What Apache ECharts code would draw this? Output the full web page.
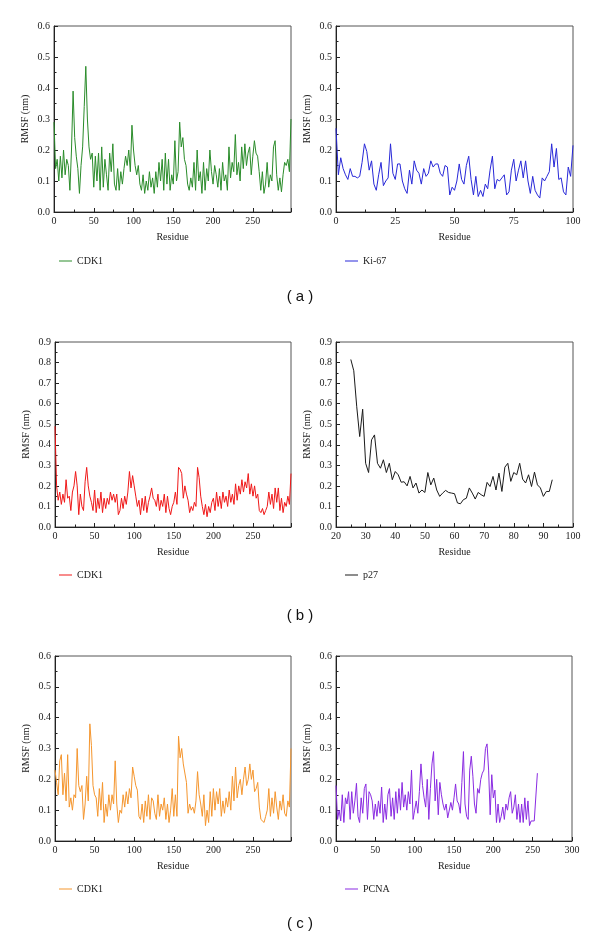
<!DOCTYPE html>
<html>
<head>
<meta charset="utf-8">
<script src="https://cdn.jsdelivr.net/npm/echarts@6/dist/echarts.min.js"></script>
<style>html,body{margin:0;padding:0;background:#fff}#c{width:600px;height:944px}</style>
</head>
<body>
<div id="c"></div>
<script>
// ---- data ----
const cdk1Step = 2; // CDK1 and PCNA values sampled every 2 residues
const cdk1GreenValues = [
0.29,0.14,0.17,0.10,0.18,0.11,0.20,0.12,0.17,0.15,
0.07,0.20,0.39,0.24,0.18,0.14,0.06,0.15,0.21,0.34,
0.47,0.30,0.21,0.17,0.19,0.08,0.18,0.10,0.19,0.07,
0.21,0.08,0.17,0.12,0.07,0.19,0.13,0.22,0.09,0.07,
0.14,0.07,0.13,0.09,0.14,0.18,0.15,0.20,0.13,0.28,
0.20,0.15,0.12,0.15,0.09,0.07,0.12,0.06,0.10,0.07,
0.13,0.08,0.11,0.06,0.13,0.08,0.16,0.10,0.17,0.07,
0.19,0.09,0.17,0.07,0.12,0.09,0.23,0.10,0.13,0.29,
0.21,0.24,0.17,0.15,0.09,0.07,0.11,0.08,0.16,0.07,
0.20,0.10,0.13,0.06,0.16,0.07,0.14,0.10,0.20,0.13,
0.09,0.15,0.12,0.08,0.14,0.07,0.16,0.10,0.12,0.07,
0.21,0.11,0.16,0.13,0.25,0.12,0.16,0.10,0.21,0.14,
0.22,0.15,0.19,0.21,0.12,0.18,0.23,0.19,0.18,0.13,
0.07,0.13,0.06,0.09,0.16,0.08,0.12,0.10,0.21,0.23,
0.12,0.07,0.11,0.065,0.12,0.16,0.15,0.17,0.13,0.30];
const ki67Values = [
0.27,0.12,0.175,0.14,0.12,0.105,0.14,0.115,0.115,0.11,
0.115,0.16,0.22,0.195,0.135,0.165,0.09,0.07,0.12,0.16,
0.085,0.10,0.11,0.22,0.125,0.105,0.155,0.155,0.10,0.075,
0.06,0.135,0.09,0.165,0.135,0.125,0.09,0.14,0.115,0.125,
0.165,0.145,0.155,0.155,0.125,0.115,0.15,0.145,0.055,0.08,
0.07,0.10,0.155,0.105,0.09,0.15,0.18,0.105,0.055,0.115,
0.05,0.07,0.05,0.09,0.075,0.135,0.18,0.075,0.105,0.10,
0.11,0.12,0.055,0.065,0.135,0.17,0.10,0.135,0.165,0.11,
0.165,0.10,0.06,0.115,0.07,0.055,0.045,0.11,0.10,0.115,
0.13,0.22,0.145,0.205,0.105,0.11,0.065,0.055,0.145,0.115,0.215];
const cdk1RedValues = [
0.49,0.20,0.13,0.17,0.11,0.16,0.12,0.23,0.14,0.15,
0.08,0.17,0.20,0.27,0.20,0.06,0.16,0.10,0.08,0.22,
0.29,0.20,0.15,0.12,0.08,0.18,0.07,0.14,0.09,0.17,
0.07,0.14,0.09,0.14,0.11,0.17,0.13,0.16,0.12,0.16,
0.06,0.08,0.14,0.09,0.15,0.11,0.17,0.27,0.19,0.25,
0.20,0.15,0.10,0.13,0.06,0.14,0.08,0.15,0.07,0.12,
0.15,0.19,0.14,0.13,0.10,0.16,0.08,0.13,0.10,0.16,
0.07,0.15,0.09,0.06,0.10,0.12,0.17,0.11,0.29,0.28,
0.26,0.14,0.20,0.16,0.13,0.07,0.10,0.08,0.12,0.10,
0.29,0.24,0.15,0.10,0.06,0.11,0.05,0.10,0.07,0.12,
0.14,0.08,0.17,0.10,0.15,0.09,0.17,0.12,0.15,0.10,
0.18,0.12,0.16,0.11,0.21,0.13,0.20,0.16,0.23,0.17,
0.22,0.19,0.26,0.16,0.21,0.15,0.20,0.14,0.16,0.08,
0.07,0.09,0.06,0.08,0.10,0.17,0.11,0.16,0.09,0.19,
0.12,0.19,0.08,0.14,0.07,0.12,0.10,0.15,0.11,0.26];
const p27Start = 25;
const p27Values = [
0.815,0.76,0.585,0.44,0.573,0.31,0.265,0.424,0.448,0.31,
0.286,0.327,0.265,0.31,0.23,0.27,0.254,0.218,0.22,0.20,
0.246,0.19,0.214,0.165,0.18,0.168,0.265,0.205,0.238,0.18,
0.149,0.165,0.178,0.168,0.165,0.162,0.117,0.113,0.133,0.14,
0.19,0.165,0.136,0.168,0.157,0.149,0.217,0.197,0.246,0.18,
0.262,0.173,0.291,0.31,0.222,0.265,0.254,0.31,0.233,0.214,
0.254,0.197,0.267,0.205,0.19,0.149,0.173,0.173,0.23];
const cdk1OrangeValues = [
0.23,0.19,0.15,0.26,0.28,0.15,0.22,0.13,0.28,0.11,
0.14,0.10,0.15,0.14,0.30,0.18,0.16,0.18,0.07,0.12,
0.21,0.13,0.38,0.31,0.18,0.15,0.14,0.08,0.17,0.10,
0.19,0.06,0.12,0.08,0.15,0.10,0.15,0.12,0.26,0.12,
0.06,0.10,0.09,0.15,0.11,0.16,0.12,0.17,0.14,0.24,
0.21,0.18,0.165,0.08,0.07,0.12,0.06,0.13,0.08,0.15,
0.07,0.14,0.13,0.09,0.07,0.15,0.08,0.12,0.10,0.14,
0.07,0.12,0.06,0.10,0.17,0.08,0.15,0.08,0.34,0.27,
0.30,0.25,0.25,0.19,0.09,0.12,0.10,0.11,0.09,0.13,
0.225,0.15,0.12,0.08,0.15,0.05,0.10,0.06,0.16,0.08,
0.17,0.10,0.16,0.12,0.17,0.08,0.13,0.09,0.14,0.11,
0.16,0.10,0.21,0.13,0.24,0.14,0.18,0.20,0.15,0.20,
0.24,0.18,0.20,0.25,0.20,0.23,0.16,0.17,0.19,0.11,
0.07,0.07,0.06,0.08,0.10,0.17,0.08,0.14,0.09,0.16,
0.11,0.07,0.13,0.10,0.15,0.09,0.08,0.13,0.11,0.30];
const pcnaValues = [
0.18,0.07,0.10,0.065,0.15,0.06,0.14,0.12,0.16,0.07,
0.16,0.09,0.13,0.187,0.08,0.06,0.14,0.09,0.17,0.185,
0.07,0.16,0.15,0.13,0.07,0.12,0.08,0.13,0.09,0.175,
0.06,0.12,0.07,0.15,0.17,0.08,0.14,0.07,0.16,0.09,
0.17,0.10,0.19,0.11,0.15,0.10,0.16,0.12,0.23,0.07,
0.10,0.13,0.09,0.16,0.25,0.18,0.14,0.11,0.20,0.07,
0.17,0.25,0.29,0.13,0.20,0.085,0.19,0.15,0.12,0.10,
0.12,0.075,0.07,0.125,0.10,0.14,0.185,0.13,0.12,0.09,
0.19,0.29,0.12,0.08,0.07,0.23,0.275,0.21,0.12,0.09,
0.17,0.155,0.20,0.22,0.23,0.30,0.315,0.23,0.085,0.215,
0.14,0.165,0.06,0.12,0.06,0.08,0.11,0.07,0.12,0.10,
0.14,0.16,0.09,0.11,0.15,0.07,0.12,0.06,0.12,0.06,
0.14,0.07,0.13,0.05,0.065,0.06,0.065,0.06,0.22];
const yTicks06 = [0.0,0.1,0.2,0.3,0.4,0.5,0.6];
const yTicks09 = [0.0,0.1,0.2,0.3,0.4,0.5,0.6,0.7,0.8,0.9];
const panelLabels = ['( a )','( b )','( c )'];

// ---- build ----
function pairs(values, start, step){ return values.map((v,i)=>[start + i*step, v]); }

const serif = 'Liberation Serif';
const panels = [
  {name:'CDK1_a', label:'CDK1', color:'#2a8c2a', data:pairs(cdk1GreenValues,0,cdk1Step), grid:{left:54,top:26,width:237,height:186}, x:[0,298,50], ymax:yTicks06[yTicks06.length-1]},
  {name:'Ki67', label:'Ki-67', color:'#2828d8', data:pairs(ki67Values,0,1), grid:{left:336,top:26,width:237,height:186}, x:[0,100,25], ymax:yTicks06[yTicks06.length-1]},
  {name:'CDK1_b', label:'CDK1', color:'#f01818', data:pairs(cdk1RedValues,0,cdk1Step), grid:{left:55,top:342,width:236,height:185}, x:[0,298,50], ymax:yTicks09[yTicks09.length-1]},
  {name:'p27', label:'p27', color:'#1a1a1a', data:pairs(p27Values,p27Start,1), grid:{left:336,top:342,width:237,height:185}, x:[20,100,10], ymax:yTicks09[yTicks09.length-1]},
  {name:'CDK1_c', label:'CDK1', color:'#f5962e', data:pairs(cdk1OrangeValues,0,cdk1Step), grid:{left:55,top:656,width:236,height:185}, x:[0,298,50], ymax:yTicks06[yTicks06.length-1]},
  {name:'PCNA', label:'PCNA', color:'#8a2be2', data:pairs(pcnaValues,0,cdk1Step), grid:{left:336,top:656,width:236,height:185}, x:[0,300,50], ymax:yTicks06[yTicks06.length-1]}
];
const labelMap = {};
panels.forEach(p=>labelMap[p.name]=p.label);

const grids=[], xAxes=[], yAxes=[], series=[], legends=[];
panels.forEach((p,i)=>{
  grids.push(Object.assign({show:true, borderColor:'#555', borderWidth:1, backgroundColor:'transparent'}, p.grid));
  xAxes.push({
    type:'value', gridIndex:i, min:p.x[0], max:p.x[1], interval:p.x[2],
    name:'Residue', nameLocation:'middle', nameGap:20,
    nameTextStyle:{fontFamily:serif, fontSize:10, color:'#222'},
    axisLine:{show:true, onZero:false, lineStyle:{color:'#222', width:1}},
    axisTick:{show:true, inside:true, length:4, lineStyle:{color:'#222'}},
    minorTick:{show:true, splitNumber:2, length:2.5, lineStyle:{color:'#222'}},
    splitLine:{show:false},
    axisLabel:{fontFamily:serif, fontSize:10, color:'#222', margin:4, showMaxLabel: p.x[1] % p.x[2] === 0},
  });
  yAxes.push({
    type:'value', gridIndex:i, min:0, max:p.ymax, interval:0.1,
    name:'RMSF (nm)', nameLocation:'middle', nameGap:24,
    nameTextStyle:{fontFamily:serif, fontSize:10, color:'#222'},
    axisLine:{show:true, onZero:false, lineStyle:{color:'#222', width:1}},
    axisTick:{show:true, inside:true, length:4, lineStyle:{color:'#222'}},
    minorTick:{show:true, splitNumber:2, length:2.5, lineStyle:{color:'#222'}},
    splitLine:{show:false},
    axisLabel:{fontFamily:serif, fontSize:10, color:'#222', margin:4, formatter:v=>v.toFixed(1)}
  });
  series.push({
    name:p.name, type:'line', xAxisIndex:i, yAxisIndex:i, data:p.data,
    showSymbol:false, symbol:'none', lineStyle:{color:p.color, width:1}, itemStyle:{color:p.color},
    silent:true, animation:false
  });
  const legTop = [251,565,879][Math.floor(i/2)];
  legends.push({
    data:[p.name], left: i%2===0 ? 54 : 340, top:legTop, selectedMode:false,
    icon:'rect', itemWidth:13, itemHeight:1, itemGap:6,
    formatter: n=>labelMap[n],
    textStyle:{fontFamily:serif, fontSize:10, color:'#222'}
  });
});

const graphics = panelLabels.map((t,k)=>({
  type:'text', left:'center', top:[289,608,916][k],
  style:{text:t, font:'15px "Liberation Sans"', fill:'#111'}
}));

const chart = echarts.init(document.getElementById('c'), null, {renderer:'canvas'});
chart.setOption({
  animation:false,
  backgroundColor:'#fff',
  grid:grids, xAxis:xAxes, yAxis:yAxes, series:series, legend:legends,
  graphic:graphics
});
</script>
</body>
</html>
